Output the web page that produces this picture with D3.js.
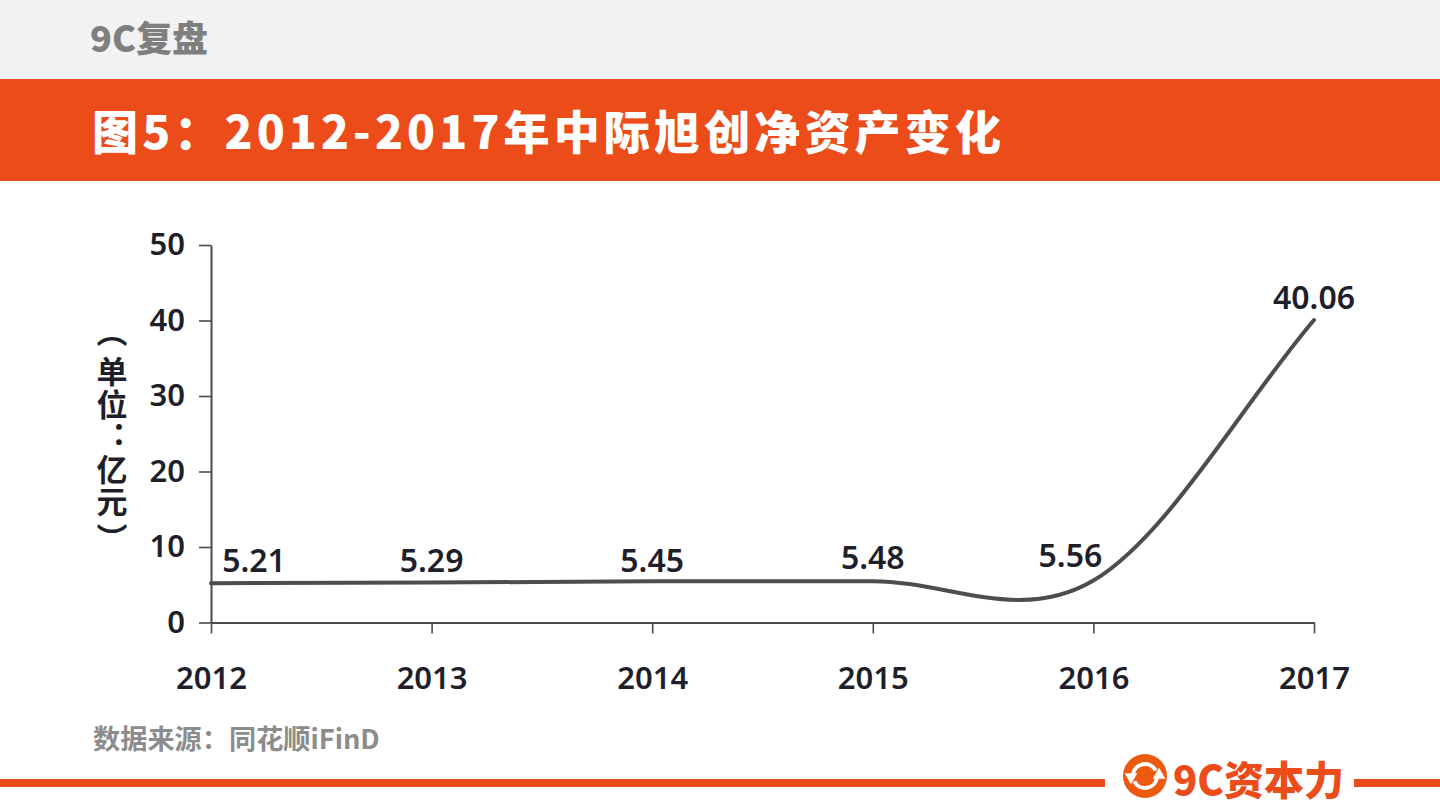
<!DOCTYPE html>
<html>
<head>
<meta charset="utf-8">
<script src="https://cdn.jsdelivr.net/npm/d3@7"></script>
<style>
  html, body { margin: 0; padding: 0; background: #fff; }
  text { font-family: "Noto Sans CJK SC", "Noto Sans", sans-serif; }
</style>
</head>
<body>
<div id="chart"></div>
<script>
var years = ["2012", "2013", "2014", "2015", "2016", "2017"];
var netAssets = [5.21, 5.29, 5.45, 5.48, 5.56, 40.06];
var valueLabels = ["5.21", "5.29", "5.45", "5.48", "5.56", "40.06"];
var yTicks = [0, 10, 20, 30, 40, 50];

var orange = "#eb4c1a", ink = "#1f1f2b", axisColor = "#4a4a52";

var svg = d3.select("#chart").append("svg")
    .attr("width", 1440)
    .attr("height", 810)
    .style("display", "block");

// header bands
svg.append("rect").attr("width", 1440).attr("height", 79).attr("fill", "#f2f2f2");
svg.append("rect").attr("y", 79).attr("width", 1440).attr("height", 102).attr("fill", orange);

svg.append("text").attr("x", 90).attr("y", 52)
    .attr("font-size", 36).attr("font-weight", 900).attr("fill", "#7f7f7f")
    .text("9C复盘");

svg.append("text").attr("x", 92).attr("y", 149)
    .attr("font-size", 46).attr("font-weight", 900).attr("fill", "#fff")
    .attr("letter-spacing", 4.15)
    .text("图5：2012-2017年中际旭创净资产变化");

// scales
var x = d3.scalePoint().domain(years).range([211, 1314]);
var y = d3.scaleLinear().domain([0, 50]).range([622.5, 245]);

// axes
var yAxis = svg.append("g")
    .attr("transform", "translate(" + x(years[0]) + ",0)")
    .call(d3.axisLeft(y).tickValues(yTicks).tickSize(12).tickSizeOuter(0).tickPadding(14));
var xAxis = svg.append("g")
    .attr("transform", "translate(0," + y(0) + ")")
    .call(d3.axisBottom(x).tickSize(11).tickSizeOuter(0).tickPadding(33));

[xAxis, yAxis].forEach(function(a) {
    a.select(".domain").attr("stroke", axisColor).attr("stroke-width", 2);
    a.selectAll(".tick line").attr("stroke", axisColor).attr("stroke-width", 1.6);
    a.selectAll("text")
        .attr("fill", ink)
        .attr("font-size", 31)
        .attr("font-weight", 600)
        .style("font-family", "'Noto Sans', sans-serif");
});

// spreadsheet style smoothing: catmull-rom inside, end tangents along the chord
function sheetSmooth(context) {
    var pts;
    return {
        lineStart: function() { pts = []; },
        point: function(px, py) { pts.push([px, py]); },
        lineEnd: function() {
            var n = pts.length - 1;
            function tangent(i) {
                var a = pts[Math.max(i - 1, 0)], b = pts[Math.min(i + 1, n)];
                var k = (i == 0 || i == n) ? 1 : 0.5;
                return [(b[0] - a[0]) * k, (b[1] - a[1]) * k];
            }
            context.moveTo(pts[0][0], pts[0][1]);
            for (var i = 0; i < n; i++) {
                var t0 = tangent(i), t1 = tangent(i + 1);
                context.bezierCurveTo(
                    pts[i][0] + t0[0] / 3, pts[i][1] + t0[1] / 3,
                    pts[i + 1][0] - t1[0] / 3, pts[i + 1][1] - t1[1] / 3,
                    pts[i + 1][0], pts[i + 1][1]);
            }
        }
    };
}

var line = d3.line()
    .x(function(d, i) { return x(years[i]); })
    .y(function(d) { return y(d); })
    .curve(sheetSmooth);

svg.append("path")
    .datum(netAssets)
    .attr("d", line)
    .attr("fill", "none")
    .attr("stroke", "#4d4d4d")
    .attr("stroke-width", 4)
    .attr("stroke-linecap", "round");

// value labels, first and 2016 moved off the line
var labelShift = { 0: [43, -11], 1: [0, -11], 2: [0, -9], 3: [0, -12], 4: [-23, -14], 5: [0, -11] };
svg.append("g").selectAll("text")
    .data(netAssets)
    .enter()
    .append("text")
    .attr("x", function(d, i) { return x(years[i]) + labelShift[i][0]; })
    .attr("y", function(d, i) { return y(d) + labelShift[i][1]; })
    .attr("text-anchor", "middle")
    .attr("font-size", 32)
    .attr("font-weight", 600)
    .attr("fill", ink)
    .style("font-family", "'Noto Sans', sans-serif")
    .text(function(d, i) { return valueLabels[i]; });

// vertical unit label, brackets sit a little further out than the text
var unit = svg.append("text")
    .attr("x", 112)
    .attr("y", 316)
    .attr("font-size", 31)
    .attr("font-weight", 700)
    .attr("fill", ink)
    .attr("lang", "zh-CN")
    .attr("letter-spacing", 1.5)
    .style("writing-mode", "vertical-rl")
    .style("text-spacing-trim", "space-all");
unit.append("tspan").attr("letter-spacing", 8.5).text("（");
unit.append("tspan").text("单位：亿");
unit.append("tspan").attr("letter-spacing", 6.5).text("元");
unit.append("tspan").text("）");

// source
svg.append("text").attr("x", 93).attr("y", 749)
    .attr("font-size", 27.2).attr("font-weight", 700).attr("fill", "#8c8c8c")
    .text("数据来源：同花顺iFinD");

// footer rule + logo
svg.append("rect").attr("y", 779).attr("width", 1105).attr("height", 8).attr("fill", orange);
svg.append("rect").attr("x", 1354).attr("y", 779).attr("width", 86).attr("height", 8).attr("fill", orange);

var logo = svg.append("g").attr("transform", "translate(1145,776)");
logo.append("circle").attr("r", 22).attr("fill", "#ec5a10");
var arc = d3.arc().innerRadius(10).outerRadius(14);
logo.append("path").attr("fill", "#fff").attr("d", arc({ startAngle: -1.45, endAngle: 1.1 }));
logo.append("path").attr("fill", "#fff").attr("d", arc({ startAngle: 1.69, endAngle: 4.24 }));
logo.append("path").attr("fill", "#fff").attr("d", d3.symbol(d3.symbolTriangle, 70)()).attr("transform", "translate(-14,1) rotate(180)");
logo.append("path").attr("fill", "#fff").attr("d", d3.symbol(d3.symbolTriangle, 70)()).attr("transform", "translate(14,-1)");

svg.append("text").attr("x", 1173).attr("y", 795)
    .attr("font-size", 40).attr("font-weight", 900).attr("fill", orange)
    .text("9C资本力");
</script>
</body>
</html>
